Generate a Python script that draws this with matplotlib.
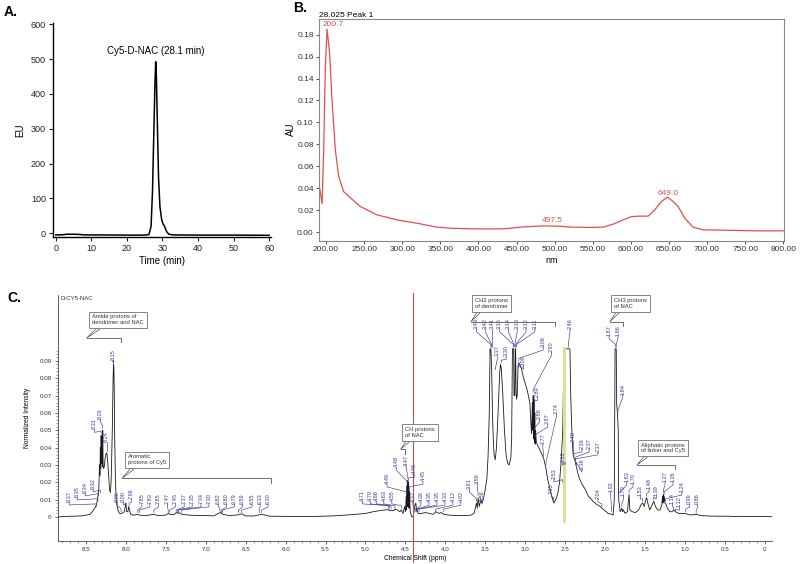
import matplotlib.pyplot as plt
from matplotlib.patches import Rectangle
from matplotlib.ticker import MultipleLocator, FormatStrFormatter, FuncFormatter

plt.rcParams['font.family'] = ['Liberation Sans', 'DejaVu Sans']

# ---- A: HPLC trace (fluorescence) ----
hplc_time = [0, 2, 3, 5, 6.5, 8, 12, 20, 25, 26.2, 26.8, 27.2, 27.6, 27.9, 28.1, 28.3,
             28.6, 28.9, 29.3, 29.8, 30.2, 30.5, 30.8, 31.2, 31.8, 33, 40, 50, 60]
hplc_eu = [-5, -4.5, -3, -3, -3.5, -5, -5, -5.5, -5.5, -4, 20, 120, 300, 430, 492, 450,
           300, 160, 75, 38, 26, 22, 14, 4, -3, -5, -5.5, -5.5, -6]

# ---- B: UV-vis spectrum of the peak ----
uv_nm = [191.6, 194.8, 196.9, 199.1, 201.3, 204.7, 207.8, 212.2, 216.5, 223, 234, 245,
         266.8, 293, 319, 345.4, 362.8, 393.4, 432.7, 458.9, 485.1, 507, 520, 546.3,
         563.7, 576.8, 589.9, 600.9, 611.8, 622.7, 631.4, 640.2, 648.1, 655.4, 662,
         670.7, 681.6, 694.7, 720.9, 764.6, 800]
uv_au = [0.040, 0.026, 0.075, 0.151, 0.185, 0.163, 0.121, 0.075, 0.051, 0.037, 0.030,
         0.0234, 0.0158, 0.0112, 0.0082, 0.0046, 0.0036, 0.003, 0.003, 0.0048, 0.0057,
         0.0054, 0.0046, 0.0043, 0.0046, 0.0073, 0.0112, 0.0142, 0.0146, 0.0146, 0.0203,
         0.028, 0.032, 0.028, 0.0235, 0.0128, 0.0046, 0.0021, 0.0018, 0.0012, 0.0012]
uv_peak_text = ['200.7', '497.5', '649.0']
uv_peak_nm = [209.5, 497.5, 649.5]
uv_peak_au = [0.1895, 0.0105, 0.035]

# ---- C: 1H NMR spectrum ----
nmr_ppm = [8.85, 8.75, 8.65, 8.55, 8.50, 8.45, 8.42, 8.39, 8.37, 8.36, 8.35, 8.34, 8.335,
           8.33, 8.325, 8.32, 8.315, 8.31, 8.305, 8.30, 8.295, 8.29, 8.285, 8.28, 8.27,
           8.26, 8.245, 8.235, 8.22, 8.205, 8.195, 8.185, 8.17, 8.16, 8.155, 8.15, 8.145,
           8.14, 8.13, 8.12, 8.10, 8.08, 8.05, 8.02, 8.005, 8.00, 7.99, 7.975, 7.965,
           7.955, 7.94, 7.90, 7.85, 7.83, 7.75, 7.65, 7.60, 7.50, 7.47, 7.45, 7.40, 7.37,
           7.35, 7.34, 7.30, 7.20, 7.10, 7.00, 6.90, 6.82, 6.80, 6.79, 6.70, 6.59, 6.55,
           6.50, 6.40, 6.33, 6.30, 6.20, 6.00, 5.80, 5.60, 5.40, 5.20, 5.00, 4.90, 4.80,
           4.75, 4.71, 4.70, 4.68, 4.65, 4.63, 4.60, 4.57, 4.55, 4.53, 4.51, 4.50, 4.49,
           4.485, 4.48, 4.475, 4.47, 4.465, 4.46, 4.455, 4.45, 4.44, 4.42, 4.40, 4.385,
           4.37, 4.36, 4.34, 4.30, 4.25, 4.20, 4.15, 4.12, 4.08, 4.05, 4.02, 3.95, 3.85,
           3.75, 3.68, 3.64, 3.62, 3.61, 3.60, 3.59, 3.575, 3.56, 3.54, 3.52, 3.50, 3.48,
           3.465, 3.45, 3.44, 3.43, 3.42, 3.41, 3.40, 3.39, 3.375, 3.36, 3.34, 3.32, 3.31,
           3.30, 3.28, 3.26, 3.24, 3.22, 3.20, 3.18, 3.17, 3.16, 3.15, 3.145, 3.14, 3.13,
           3.125, 3.12, 3.115, 3.11, 3.10, 3.09, 3.08, 3.07, 3.05, 3.02, 3.00, 2.98, 2.96,
           2.94, 2.93, 2.92, 2.91, 2.905, 2.90, 2.895, 2.89, 2.885, 2.88, 2.875, 2.87,
           2.86, 2.84, 2.82, 2.80, 2.78, 2.77, 2.75, 2.74, 2.72, 2.70, 2.68, 2.66, 2.65,
           2.64, 2.63, 2.61, 2.59, 2.57, 2.55, 2.53, 2.52, 2.51, 2.49, 2.47, 2.45, 2.44,
           2.435, 2.43, 2.42, 2.41, 2.40, 2.39, 2.38, 2.37, 2.36, 2.34, 2.32, 2.29, 2.25,
           2.21, 2.15, 2.10, 2.06, 2.04, 2.00, 1.96, 1.92, 1.90, 1.885, 1.875, 1.86, 1.855,
           1.845, 1.835, 1.83, 1.81, 1.79, 1.78, 1.77, 1.75, 1.72, 1.70, 1.69, 1.66, 1.62,
           1.58, 1.55, 1.53, 1.51, 1.49, 1.48, 1.46, 1.44, 1.42, 1.39, 1.37, 1.34, 1.31,
           1.29, 1.28, 1.275, 1.27, 1.265, 1.26, 1.25, 1.24, 1.22, 1.19, 1.16, 1.14, 1.12,
           1.08, 1.04, 0.99, 0.95, 0.90, 0.86, 0.80, 0.70, 0.60, 0.50, 0.40, 0.30, 0.20,
           0.10, 0.00, -0.09]
nmr_int = [0.0, 0.0003, 0.0004, 0.0006, 0.001, 0.0015, 0.003, 0.005, 0.007, 0.009, 0.012,
           0.016, 0.022, 0.03, 0.024, 0.04, 0.028, 0.047, 0.031, 0.045, 0.029, 0.050,
           0.030, 0.028, 0.029, 0.034, 0.037, 0.036, 0.027, 0.016, 0.014, 0.02, 0.05, 0.08,
           0.088, 0.086, 0.07, 0.045, 0.02, 0.009, 0.004, 0.002, 0.002, 0.003, 0.007, 0.008,
           0.003, 0.003, 0.006, 0.004, 0.0015, 0.001, 0.0015, 0.001, 0.0008, 0.0015,
           0.0008, 0.001, 0.002, 0.0015, 0.0012, 0.0025, 0.002, 0.0025, 0.0015, 0.001,
           0.0008, 0.0008, 0.0006, 0.0025, 0.002, 0.0015, 0.0007, 0.0012, 0.0018, 0.0006,
           0.0005, 0.0012, 0.0015, 0.0004, 0.0003, 0.0002, 0.0003, 0.0006, 0.0012, 0.002,
           0.003, 0.0038, 0.004, 0.0042, 0.0035, 0.004, 0.0035, 0.0045, 0.004, 0.003,
           0.004, 0.002, 0.006, 0.003, 0.012, 0.004, 0.018, 0.006, 0.021, 0.006, 0.02,
           0.005, 0.015, 0.003, 0.0, 0.0005, 0.006, 0.008, 0.004, 0.002, 0.002, 0.0025,
           0.002, 0.0015, 0.003, 0.002, 0.0025, 0.0015, 0.001, 0.0008, 0.0008, 0.001,
           0.002, 0.006, 0.008, 0.005, 0.011, 0.006, 0.009, 0.008, 0.011, 0.016, 0.022,
           0.035, 0.06, 0.097, 0.097, 0.085, 0.06, 0.045, 0.036, 0.033, 0.040, 0.06, 0.083,
           0.088, 0.086, 0.07, 0.05, 0.036, 0.031, 0.030, 0.034, 0.045, 0.097, 0.097,
           0.097, 0.07, 0.07, 0.097, 0.097, 0.075, 0.068, 0.07, 0.086, 0.089, 0.088, 0.086,
           0.08, 0.077, 0.074, 0.07, 0.065, 0.055, 0.048, 0.066, 0.05, 0.07, 0.045, 0.068,
           0.043, 0.06, 0.042, 0.05, 0.043, 0.041, 0.039, 0.037, 0.035, 0.034, 0.03, 0.028,
           0.022, 0.018, 0.014, 0.011, 0.009, 0.008, 0.009, 0.011, 0.014, 0.02, 0.032,
           0.05, 0.08, 0.097, 0.097, 0.097, 0.097, 0.097, 0.085, 0.07, 0.055, 0.043, 0.036,
           0.034, 0.033, 0.031, 0.029, 0.025, 0.022, 0.019, 0.016, 0.012, 0.009, 0.007,
           0.006, 0.005, 0.0035, 0.002, 0.0015, 0.001, 0.01, 0.097, 0.097, 0.065, 0.06,
           0.05, 0.01, 0.003, 0.005, 0.003, 0.004, 0.002, 0.003, 0.013, 0.004, 0.003,
           0.0025, 0.004, 0.007, 0.008, 0.006, 0.01, 0.011, 0.007, 0.004, 0.006, 0.009,
           0.006, 0.004, 0.004, 0.007, 0.012, 0.008, 0.013, 0.009, 0.012, 0.008, 0.0075,
           0.005, 0.003, 0.003, 0.004, 0.003, 0.002, 0.002, 0.002, 0.0012, 0.0012, 0.0015,
           0.0008, 0.0005, 0.0004, 0.0004, 0.0003, 0.0003, 0.0002, 0.0002, 0.0002, 0.0001]

# peak labels: text, label x, label bottom y, peak x, peak y
pk_text = ['8.37', '8.35', '8.34', '8.32', '8.31', '8.29', '8.24', '8.15', '8.06', '8.00',
           '7.96', '7.85', '7.83', '7.65', '7.47', '7.45', '7.37', '7.35', '7.34', '7.30',
           '6.82', '6.80', '6.79', '6.59', '6.55', '6.33', '6.30',
           '4.71', '4.70', '4.68', '4.63', '4.55', '4.49', '4.48', '4.47', '4.46', '4.45',
           '4.37', '4.36', '4.35', '4.35', '4.33', '4.12', '4.02', '3.61', '3.59', '3.56',
           '3.43', '3.42', '3.41', '3.15', '3.14', '3.13', '3.12', '3.11', '3.37', '3.30',
           '3.09', '3.08', '2.90', '2.89', '2.88', '2.87', '2.74', '2.77', '2.65', '2.53',
           '2.63', '2.46', '2.40', '2.39', '2.37', '2.37', '2.36', '2.04', '1.92', '1.87',
           '1.86', '1.84', '1.83', '1.79', '1.70', '1.53', '1.48', '1.39', '1.27', '1.26',
           '1.24', '1.14', '1.12', '0.99', '0.86']
pk_lx = [8.71, 8.61, 8.51, 8.41, 8.39, 8.32, 8.24, 8.16, 8.11, 8.03,
         7.93, 7.80, 7.70, 7.59, 7.48, 7.38, 7.27, 7.17, 7.06, 6.96,
         6.84, 6.74, 6.64, 6.54, 6.42, 6.32, 6.22,
         5.035, 4.94, 4.86, 4.77, 4.67, 4.73, 4.61, 4.49, 4.39, 4.28,
         4.405, 4.305, 4.205, 4.105, 4.005, 3.905, 3.805, 3.70, 3.60, 3.54,
         3.61, 3.50, 3.41, 3.32, 3.21, 3.10, 2.99, 2.88, 3.35, 3.24,
         3.02, 2.775, 2.67, 2.85, 2.82, 2.72, 2.61, 2.78, 2.68, 2.64,
         2.53, 2.44, 2.40, 2.29, 2.20, 2.09, 2.29, 2.09, 1.93, 1.95,
         1.84, 1.78, 1.73, 1.77, 1.65, 1.56, 1.45, 1.36, 1.25, 1.15,
         1.04, 1.155, 1.07, 0.94, 0.84]
pk_ly = [0.0081, 0.011, 0.0133, 0.0156, 0.050, 0.056, 0.0427, 0.090, 0.008, 0.008,
         0.0098, 0.007, 0.007, 0.007, 0.007, 0.007, 0.007, 0.007, 0.007, 0.007,
         0.007, 0.007, 0.007, 0.007, 0.007, 0.007, 0.007,
         0.0087, 0.0087, 0.0087, 0.0087, 0.0087, 0.0185, 0.028, 0.029, 0.024, 0.020,
         0.008, 0.008, 0.008, 0.008, 0.008, 0.008, 0.008, 0.0156, 0.0185, 0.0087,
         0.108, 0.108, 0.108, 0.108, 0.108, 0.108, 0.108, 0.108, 0.092, 0.092,
         0.0866, 0.0975, 0.0946, 0.0687, 0.056, 0.053, 0.059, 0.0415, 0.0127, 0.0214,
         0.031, 0.108, 0.0427, 0.0387, 0.0387, 0.037, 0.027, 0.0098, 0.0138, 0.104,
         0.104, 0.070, 0.0196, 0.0115, 0.0185, 0.0115, 0.0156, 0.0115, 0.0196, 0.0196,
         0.0138, 0.007, 0.005, 0.007, 0.007]
pk_px = [8.37, 8.35, 8.34, 8.32, 8.31, 8.29, 8.24, 8.155, 8.06, 8.00,
         7.96, 7.85, 7.83, 7.65, 7.47, 7.45, 7.37, 7.35, 7.34, 7.30,
         6.82, 6.80, 6.79, 6.59, 6.55, 6.33, 6.30,
         4.71, 4.70, 4.68, 4.63, 4.55, 4.49, 4.48, 4.47, 4.46, 4.45,
         4.37, 4.36, 4.35, 4.35, 4.33, 4.12, 4.02, 3.61, 3.59, 3.56,
         3.43, 3.42, 3.41, 3.15, 3.14, 3.13, 3.12, 3.11, 3.37, 3.30,
         3.09, 3.08, 2.90, 2.89, 2.88, 2.87, 2.74, 2.77, 2.65, 2.53,
         2.50, 2.46, 2.40, 2.39, 2.37, 2.37, 2.36, 2.04, 1.92, 1.87,
         1.86, 1.84, 1.83, 1.79, 1.70, 1.53, 1.48, 1.39, 1.27, 1.26,
         1.24, 1.14, 1.12, 0.99, 0.86]
pk_py = [0.006, 0.009, 0.012, 0.014, 0.048, 0.051, 0.038, 0.089, 0.003, 0.0065,
         0.0065, 0.0025, 0.0025, 0.0025, 0.0025, 0.0025, 0.0025, 0.0025, 0.0025, 0.0025,
         0.0025, 0.0025, 0.0025, 0.0025, 0.0025, 0.0025, 0.0025,
         0.005, 0.005, 0.005, 0.005, 0.005, 0.013, 0.019, 0.022, 0.021, 0.016,
         0.003, 0.003, 0.003, 0.003, 0.003, 0.003, 0.003, 0.009, 0.012, 0.0095,
         0.098, 0.098, 0.098, 0.098, 0.098, 0.098, 0.098, 0.098, 0.085, 0.089,
         0.086, 0.090, 0.072, 0.066, 0.050, 0.046, 0.030, 0.035, 0.010, 0.020,
         0.030, 0.098, 0.037, 0.035, 0.033, 0.032, 0.030, 0.006, 0.003, 0.098,
         0.098, 0.060, 0.012, 0.006, 0.014, 0.009, 0.012, 0.010, 0.014, 0.013,
         0.009, 0.004, 0.003, 0.003, 0.002]

# callout boxes: text, box centre (x, y), pointer tip, bracket from/to
box_text = ['Amide protons of\ndendrimer and NAC', 'Aromatic\nprotons of Cy5',
            'CH protons\nof NAC', 'CH2 protons\nof dendrimer', 'CH3 protons\nof NAC',
            'Aliphatic protons\nof linker and Cy5']
box_x = [8.10, 7.73, 4.32, 3.42, 1.68, 1.28]
box_y = [0.1137, 0.0329, 0.0488, 0.1232, 0.1232, 0.0398]
tip_x = [8.49, 8.05, 4.56, 3.68, 1.94, 1.60]
tip_y = [0.1033, 0.0222, 0.039, 0.1127, 0.1127, 0.030]
brk_end = [8.06, 6.18, 4.50, 2.63, 1.78, 1.13]

fig = plt.figure(figsize=(8, 5.64), dpi=100)
tick_c = '#222222'

# ---------------- A ----------------
axA = fig.add_axes([0.066, 0.580, 0.273, 0.379])
axA.plot(hplc_time, hplc_eu, color='black', lw=1.1)
axA.set_xlim(-0.85, 60.6)
axA.set_ylim(-10.6, 603)
axA.set_xticks(range(0, 61, 10))
axA.set_yticks(range(0, 601, 100))
for s in ['top', 'right']:
    axA.spines[s].set_visible(False)
for s in ['left', 'bottom']:
    axA.spines[s].set_linewidth(1.0)
axA.tick_params(labelsize=6.5, length=3, width=0.8, pad=2, colors=tick_c)
axA.set_xlabel('Time (min)', fontsize=7, labelpad=2)
axA.set_ylabel('EU', fontsize=7, labelpad=4)
axA.text(28.1, 522, 'Cy5-D-NAC (28.1 min)', fontsize=7, ha='center', va='center')
fig.text(0.004, 0.992, 'A.', fontsize=10, fontweight='bold', ha='left', va='top')

# ---------------- B ----------------
axB = fig.add_axes([0.399, 0.573, 0.581, 0.394])
axB.plot(uv_nm, uv_au, color='#e0504a', lw=0.9)
axB.set_xlim(191, 801)
axB.set_ylim(-0.0079, 0.1946)
axB.set_xticks(range(200, 801, 50))
axB.set_yticks([0.02 * i for i in range(10)])
axB.xaxis.set_major_formatter(FormatStrFormatter('%.2f'))
axB.yaxis.set_major_formatter(FormatStrFormatter('%.2f'))
for s in axB.spines.values():
    s.set_color('#888888')
    s.set_linewidth(0.8)
axB.tick_params(labelsize=6, length=2.5, width=0.6, pad=1.5, colors='#333333')
axB.set_xlabel('nm', fontsize=6.5, labelpad=2)
axB.set_ylabel('AU', fontsize=7, labelpad=1)
for t, x, y in zip(uv_peak_text, uv_peak_nm, uv_peak_au):
    axB.text(x, y, t, fontsize=6, color='#e0504a', ha='center', va='center')
axB.text(0.0, 1.0, '28.025 Peak 1', fontsize=6, transform=axB.transAxes,
         ha='left', va='bottom')
fig.text(0.366, 0.998, 'B.', fontsize=10, fontweight='bold', ha='left', va='top')

# ---------------- C ----------------
axC = fig.add_axes([0.0725, 0.0408, 0.8925, 0.436])
axC.plot(nmr_ppm, nmr_int, color='#1a1a1a', lw=0.6, zorder=3)
axC.set_xlim(8.85, -0.09)
axC.set_ylim(-0.0139, 0.128)
axC.set_xticks([0.5 * i for i in range(18)])
axC.xaxis.set_minor_locator(MultipleLocator(0.1))
axC.set_yticks([0.01 * i for i in range(10)])
axC.set_yticks([0.002 * i for i in range(49)], minor=True)
axC.xaxis.set_major_formatter(FuncFormatter(lambda v, p: '0' if abs(v) < 1e-9 else f'{v:.1f}'))
axC.yaxis.set_major_formatter(FuncFormatter(lambda v, p: '0' if abs(v) < 1e-9 else f'{v:.2f}'))
for s in ['top', 'right']:
    axC.spines[s].set_visible(False)
for s in ['left', 'bottom']:
    axC.spines[s].set_linewidth(0.6)
    axC.spines[s].set_color('#444444')
axC.tick_params(which='major', labelsize=4.5, length=2.5, width=0.5, pad=2, colors='#333333')
axC.tick_params(which='minor', length=1.5, width=0.4, colors='#555555')
axC.set_xlabel('Chemical Shift (ppm)', fontsize=4.8, labelpad=2)
axC.set_ylabel('Normalized Intensity', fontsize=4.8, labelpad=6)
axC.text(0.003, 0.988, 'D-CY5-NAC', fontsize=4.3, transform=axC.transAxes,
         ha='left', va='center', color='#333333')

# reference marks
axC.plot([4.41, 4.41], [-0.026, 0.129], color='#c0504d', lw=0.8, clip_on=False, zorder=4)
axC.add_patch(Rectangle((2.49, -0.0035), 0.04, 0.1015, color='#dbe196', lw=0, zorder=5))

# peak labels with leaders
lab_c = '#3c3c96'
for t, lx, ly, px, py in zip(pk_text, pk_lx, pk_ly, pk_px, pk_py):
    axC.text(lx, ly + 0.0006, t, rotation=90, fontsize=4, color=lab_c,
             ha='center', va='bottom', zorder=6)
    axC.plot([lx, lx, px, px], [ly + 0.0006, ly - 0.0012, py + 0.0015, py],
             color=lab_c, lw=0.45, zorder=6)

# callout boxes and brackets
for t, bx, by, tx, ty, be in zip(box_text, box_x, box_y, tip_x, tip_y, brk_end):
    axC.annotate(t, xy=(tx, ty), xytext=(bx, by), fontsize=4.2, color='#333333',
                 ha='center', va='center', multialignment='left', zorder=7,
                 bbox=dict(boxstyle='square,pad=0.5', fc='white', ec='#555555', lw=0.5),
                 arrowprops=dict(arrowstyle='wedge,tail_width=0.5,shrink_factor=0.5',
                                 fc='white', ec='#555555', lw=0.5,
                                 relpos=(0.2, 0.0), shrinkA=0, shrinkB=0))
    axC.plot([tx, be, be], [ty, ty, ty - 0.0025], color='#555555', lw=0.6, zorder=6)

fig.text(0.009, 0.484, 'C.', fontsize=10, fontweight='bold', ha='left', va='top')

fig.savefig('out.png', dpi=100)
